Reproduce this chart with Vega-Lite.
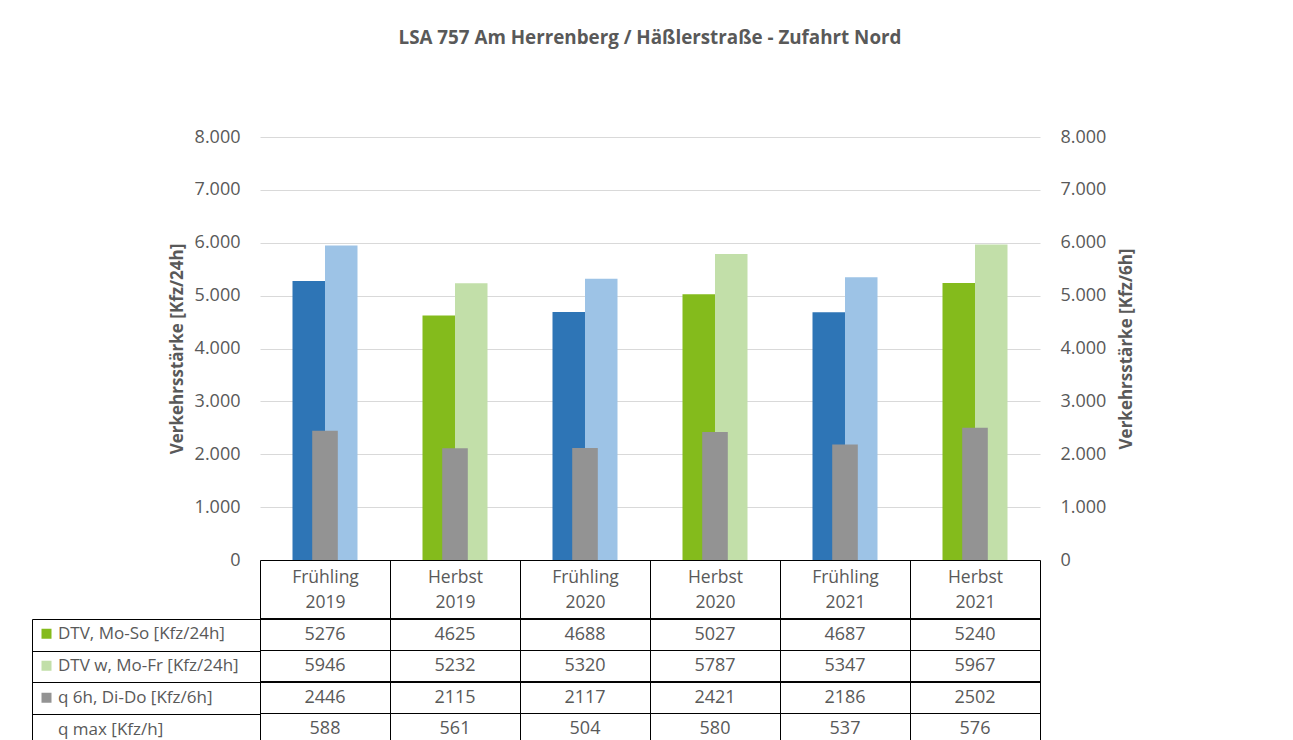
{
  "$schema": "https://vega.github.io/schema/vega-lite/v6.json",
  "width": 780,
  "height": 423,
  "autosize": {"type": "none"},
  "padding": {"left": 260, "top": 137, "right": 253, "bottom": 180},
  "background": "white",
  "title": {"text": "LSA 757 Am Herrenberg / Häßlerstraße - Zufahrt Nord", "font": "Open Sans", "fontSize": 18.8, "fontWeight": "bold", "color": "#595959", "anchor": "middle", "offset": 80},
  "data": {"values": [
    {"cat": "Frühling 2019", "season": "Frühling", "row": "DTV, Mo-So [Kfz/24h]", "value": 5276},
    {"cat": "Herbst 2019", "season": "Herbst", "row": "DTV, Mo-So [Kfz/24h]", "value": 4625},
    {"cat": "Frühling 2020", "season": "Frühling", "row": "DTV, Mo-So [Kfz/24h]", "value": 4688},
    {"cat": "Herbst 2020", "season": "Herbst", "row": "DTV, Mo-So [Kfz/24h]", "value": 5027},
    {"cat": "Frühling 2021", "season": "Frühling", "row": "DTV, Mo-So [Kfz/24h]", "value": 4687},
    {"cat": "Herbst 2021", "season": "Herbst", "row": "DTV, Mo-So [Kfz/24h]", "value": 5240},
    {"cat": "Frühling 2019", "season": "Frühling", "row": "DTV w, Mo-Fr [Kfz/24h]", "value": 5946},
    {"cat": "Herbst 2019", "season": "Herbst", "row": "DTV w, Mo-Fr [Kfz/24h]", "value": 5232},
    {"cat": "Frühling 2020", "season": "Frühling", "row": "DTV w, Mo-Fr [Kfz/24h]", "value": 5320},
    {"cat": "Herbst 2020", "season": "Herbst", "row": "DTV w, Mo-Fr [Kfz/24h]", "value": 5787},
    {"cat": "Frühling 2021", "season": "Frühling", "row": "DTV w, Mo-Fr [Kfz/24h]", "value": 5347},
    {"cat": "Herbst 2021", "season": "Herbst", "row": "DTV w, Mo-Fr [Kfz/24h]", "value": 5967},
    {"cat": "Frühling 2019", "season": "Frühling", "row": "q 6h, Di-Do [Kfz/6h]", "value": 2446},
    {"cat": "Herbst 2019", "season": "Herbst", "row": "q 6h, Di-Do [Kfz/6h]", "value": 2115},
    {"cat": "Frühling 2020", "season": "Frühling", "row": "q 6h, Di-Do [Kfz/6h]", "value": 2117},
    {"cat": "Herbst 2020", "season": "Herbst", "row": "q 6h, Di-Do [Kfz/6h]", "value": 2421},
    {"cat": "Frühling 2021", "season": "Frühling", "row": "q 6h, Di-Do [Kfz/6h]", "value": 2186},
    {"cat": "Herbst 2021", "season": "Herbst", "row": "q 6h, Di-Do [Kfz/6h]", "value": 2502},
    {"cat": "Frühling 2019", "season": "Frühling", "row": "q max [Kfz/h]", "value": 588},
    {"cat": "Herbst 2019", "season": "Herbst", "row": "q max [Kfz/h]", "value": 561},
    {"cat": "Frühling 2020", "season": "Frühling", "row": "q max [Kfz/h]", "value": 504},
    {"cat": "Herbst 2020", "season": "Herbst", "row": "q max [Kfz/h]", "value": 580},
    {"cat": "Frühling 2021", "season": "Frühling", "row": "q max [Kfz/h]", "value": 537},
    {"cat": "Herbst 2021", "season": "Herbst", "row": "q max [Kfz/h]", "value": 576}
  ]},
  "config": {
    "locale": {"number": {"decimal": ",", "thousands": ".", "grouping": [3], "currency": ["", " €"]}},
    "font": "Open Sans",
    "view": {"stroke": null},
    "axis": {"labelFont": "Open Sans", "labelFontSize": 18, "labelColor": "#595959", "titleFont": "Open Sans", "titleFontSize": 17, "titleFontWeight": "bold", "titleColor": "#595959"}
  },
  "resolve": {"scale": {"y": "independent"}, "axis": {"y": "independent"}},
  "layer": [
    {
      "transform": [{"filter": "datum.row === 'DTV, Mo-So [Kfz/24h]' || datum.row === 'DTV w, Mo-Fr [Kfz/24h]'"}],
      "mark": {"type": "bar"},
      "encoding": {
        "x": {"field": "cat", "type": "nominal", "sort": null,
          "scale": {"paddingInner": 0, "paddingOuter": 0},
          "axis": {"title": null, "orient": "bottom", "labelAngle": 0, "labelExpr": "split(datum.label, ' ')", "labelFontSize": 17.5, "labelLineHeight": 25, "labelPadding": -177, "labelBaseline": "top", "tickBand": "extent", "tickSize": 185, "tickColor": "#000000", "tickWidth": 1, "domainColor": "#000000", "domainWidth": 1, "grid": false}},
        "xOffset": {"field": "row", "type": "nominal", "scale": {"domain": ["DTV, Mo-So [Kfz/24h]", "DTV w, Mo-Fr [Kfz/24h]"], "paddingInner": 0, "paddingOuter": 1.077}},
        "y": {"field": "value", "type": "quantitative", "scale": {"domain": [0, 8000]},
          "axis": {"orient": "left", "title": "Verkehrsstärke [Kfz/24h]", "format": ",d", "tickCount": 8, "labelPadding": 20, "ticks": false, "domain": false, "grid": true, "gridColor": "#d9d9d9", "gridWidth": 1, "titlePadding": 8}},
        "color": {"field": "row", "type": "nominal",
          "condition": [
            {"test": "datum.season === 'Frühling' && datum.row === 'DTV, Mo-So [Kfz/24h]'", "value": "#2E75B6"},
            {"test": "datum.season === 'Frühling' && datum.row === 'DTV w, Mo-Fr [Kfz/24h]'", "value": "#9DC3E6"}
          ],
          "scale": {"domain": ["DTV, Mo-So [Kfz/24h]", "DTV w, Mo-Fr [Kfz/24h]", "q 6h, Di-Do [Kfz/6h]", "q max [Kfz/h]"], "range": ["#84BB1C", "#C2DFA9", "#939393", "rgba(0,0,0,0)"]},
          "legend": {"title": null, "orient": "none", "legendX": -222, "legendY": 481, "padding": 0, "symbolType": "square", "symbolSize": 100, "symbolStrokeWidth": 0, "symbolOpacity": 1, "labelFont": "Open Sans", "labelFontSize": 17, "labelColor": "#595959", "labelOffset": 3, "clipHeight": 31.5, "rowPadding": 0, "labelLimit": 300}}
      }
    },
    {
      "transform": [{"filter": "datum.row === 'q 6h, Di-Do [Kfz/6h]'"}],
      "mark": {"type": "bar", "width": {"band": 0.197}},
      "encoding": {
        "x": {"field": "cat", "type": "nominal", "sort": null},
        "y": {"field": "value", "type": "quantitative", "scale": {"domain": [0, 8000]},
          "axis": {"orient": "right", "title": "Verkehrsstärke [Kfz/6h]", "titleAngle": 270, "titleBaseline": "top", "format": ",d", "tickCount": 8, "labelAlign": "left", "labelPadding": 20, "ticks": false, "domain": false, "grid": false, "titlePadding": 13}},
        "color": {"field": "row", "type": "nominal"}
      }
    },
    {
      "layer": [
        {
          "mark": {"type": "text", "font": "Open Sans", "fontSize": 18, "color": "#595959", "align": "center", "baseline": "middle"},
          "encoding": {
            "x": {"field": "cat", "type": "nominal", "sort": null},
            "y": {"field": "row", "type": "nominal",
              "scale": {"domain": ["DTV, Mo-So [Kfz/24h]", "DTV w, Mo-Fr [Kfz/24h]", "q 6h, Di-Do [Kfz/6h]", "q max [Kfz/h]"], "range": [482, 608], "paddingInner": 0, "paddingOuter": 0},
              "axis": {"orient": "left", "title": null, "offset": 228, "labels": false, "grid": false, "domain": true, "domainColor": "#000000", "domainWidth": 1, "ticks": true, "tickSize": -228, "tickBand": "extent", "tickColor": "#000000", "tickWidth": 1}},
            "text": {"field": "value", "type": "quantitative", "format": "d"}
          }
        },
        {
          "mark": {"type": "rule", "color": "#000000", "strokeWidth": 1},
          "encoding": {
            "y": {"field": "row", "type": "nominal", "bandPosition": 0}
          }
        }
      ]
    }
  ]
}
